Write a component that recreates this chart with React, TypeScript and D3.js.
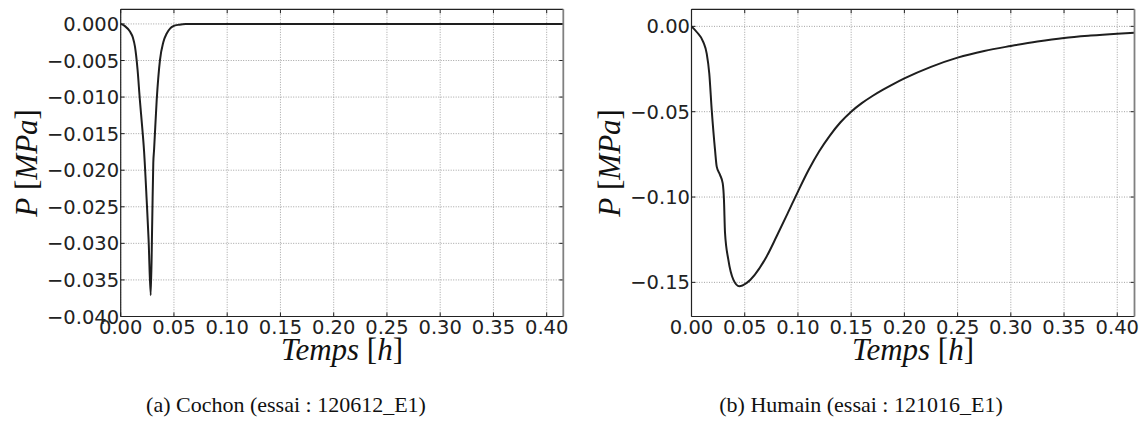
import React from "react";
import * as d3 from "d3";

// ---- Data ----
const cochonT = [0, 0.004, 0.0087, 0.0115, 0.0134, 0.0158, 0.018, 0.02, 0.0219, 0.0244, 0.0262, 0.0282, 0.0296, 0.0306, 0.0313, 0.0338, 0.0369, 0.04, 0.0432, 0.0465, 0.0494, 0.055, 0.061, 0.08, 0.2, 0.4156];
const cochonP = [0, -0.0003, -0.00105, -0.0019, -0.0031, -0.0062, -0.0104, -0.0138, -0.0173, -0.0241, -0.0295, -0.0371, -0.027, -0.019, -0.0173, -0.0104, -0.0049, -0.0025, -0.0013, -0.0006, -0.0003, -0.0001, 0, 0, 0, 0];

const humainT = [0, 0.0049, 0.0111, 0.0143, 0.0167, 0.019, 0.0221, 0.0237, 0.0268, 0.0293, 0.0305, 0.0315, 0.0346, 0.0393, 0.0449, 0.0519, 0.0706, 0.08, 0.09, 0.1, 0.11, 0.12, 0.13, 0.14, 0.15, 0.16, 0.17, 0.18, 0.19, 0.2, 0.225, 0.25, 0.275, 0.3, 0.325, 0.35, 0.375, 0.4, 0.4162];
const humainP = [0, -0.0033, -0.0092, -0.016, -0.0276, -0.049, -0.0724, -0.0822, -0.087, -0.0919, -0.1016, -0.1211, -0.1367, -0.1484, -0.1523, -0.1503, -0.1348, -0.123, -0.11, -0.0968, -0.0842, -0.0732, -0.064, -0.0562, -0.05, -0.045, -0.0408, -0.0371, -0.0337, -0.0305, -0.0237, -0.0183, -0.0144, -0.0115, -0.0089, -0.0068, -0.0054, -0.0043, -0.0037];

const xTicks = [0, 0.05, 0.1, 0.15, 0.2, 0.25, 0.3, 0.35, 0.4];
const xTickLabels = ["0.00", "0.05", "0.10", "0.15", "0.20", "0.25", "0.30", "0.35", "0.40"];
const yTicksA = [0, -0.005, -0.01, -0.015, -0.02, -0.025, -0.03, -0.035, -0.04];
const yTickLabelsA = ["0.000", "\u22120.005", "\u22120.010", "\u22120.015", "\u22120.020", "\u22120.025", "\u22120.030", "\u22120.035", "\u22120.040"];
const yTicksB = [0, -0.05, -0.1, -0.15];
const yTickLabelsB = ["0.00", "\u22120.05", "\u22120.10", "\u22120.15"];

const captionA = "(a) Cochon (essai : 120612_E1)";
const captionB = "(b) Humain (essai : 121016_E1)";

const TICK_FONT = "'DejaVu Sans', sans-serif";
const SERIF = "'Liberation Serif', 'DejaVu Serif', serif";

type PanelProps = {
  t: number[];
  p: number[];
  xDomain: [number, number];
  yDomain: [number, number];
  xRange: [number, number];
  yRange: [number, number];
  yTicks: number[];
  yTickLabels: string[];
  yLabelX: number;
  caption: string;
  captionX: number;
};

function Panel(props: PanelProps) {
  const { t, p, xDomain, yDomain, xRange, yRange, yTicks, yTickLabels, yLabelX, caption, captionX } = props;
  const x = d3.scaleLinear().domain(xDomain).range(xRange);
  const y = d3.scaleLinear().domain(yDomain).range(yRange);
  const [x0, x1] = xRange;
  const [yb, yt] = yRange;
  const line = d3
    .line<number>()
    .x((_, i) => x(t[i]))
    .y((v) => y(v))
    .curve(d3.curveMonotoneX);
  const cx = (x0 + x1) / 2;
  const cy = (yb + yt) / 2;
  const tl = 4;
  return (
    <g>
      {/* grid */}
      {xTicks.map((v, i) => (
        <line key={"gx" + i} x1={x(v)} x2={x(v)} y1={yt} y2={yb} stroke="#999" strokeWidth={0.9} strokeDasharray="1,1.5" />
      ))}
      {yTicks.map((v, i) => (
        <line key={"gy" + i} x1={x0} x2={x1} y1={y(v)} y2={y(v)} stroke="#999" strokeWidth={0.9} strokeDasharray="1,1.5" />
      ))}
      {/* inward ticks */}
      {xTicks.map((v, i) => (
        <g key={"tx" + i}>
          <line x1={x(v)} x2={x(v)} y1={yb} y2={yb - tl} stroke="#222" strokeWidth={1} />
          <line x1={x(v)} x2={x(v)} y1={yt} y2={yt + tl} stroke="#222" strokeWidth={1} />
        </g>
      ))}
      {yTicks.map((v, i) => (
        <g key={"ty" + i}>
          <line x1={x0} x2={x0 + tl} y1={y(v)} y2={y(v)} stroke="#222" strokeWidth={1} />
          <line x1={x1} x2={x1 - tl} y1={y(v)} y2={y(v)} stroke="#222" strokeWidth={1} />
        </g>
      ))}
      {/* curve */}
      <path d={line(p) || ""} fill="none" stroke="#1e1e1e" strokeWidth={2} strokeLinejoin="round" />
      {/* spines */}
      <line x1={x0} x2={x1} y1={yt} y2={yt} stroke="#222" strokeWidth={1.2} />
      <line x1={x0} x2={x1} y1={yb} y2={yb} stroke="#222" strokeWidth={1.2} />
      <line x1={x0} x2={x0} y1={yt} y2={yb} stroke="#222" strokeWidth={1.2} />
      <line x1={x1} x2={x1} y1={yt} y2={yb} stroke="#808080" strokeWidth={1.8} />
      {/* tick labels */}
      {xTicks.map((v, i) => (
        <text key={"lx" + i} x={x(v)} y={yb + 17} textAnchor="middle" fontFamily={TICK_FONT} fontSize={19.5} fill="#222">
          {xTickLabels[i]}
        </text>
      ))}
      {yTicks.map((v, i) => (
        <text key={"ly" + i} x={x0 - 1.5} y={y(v)} dy="0.36em" textAnchor="end" fontFamily={TICK_FONT} fontSize={19.5} fill="#222">
          {yTickLabels[i]}
        </text>
      ))}
      {/* axis labels */}
      <text x={cx} y={360} textAnchor="middle" fontFamily={SERIF} fontSize={31} fill="#111">
        <tspan fontStyle="italic">Temps</tspan>
        <tspan> [</tspan>
        <tspan fontStyle="italic">h</tspan>
        <tspan>]</tspan>
      </text>
      <text transform={`translate(${yLabelX},${cy}) rotate(-90)`} textAnchor="middle" fontFamily={SERIF} fontSize={31} fill="#111">
        <tspan fontStyle="italic">P</tspan>
        <tspan> [</tspan>
        <tspan fontStyle="italic">MPa</tspan>
        <tspan>]</tspan>
      </text>
      {/* caption */}
      <text x={captionX} y={411.5} textAnchor="middle" fontFamily={SERIF} fontSize={22} fill="#111">
        {caption}
      </text>
    </g>
  );
}

export default function App() {
  return (
    <svg width={1146} height={423} style={{ position: "absolute", left: 0, top: 0, background: "#fff" }}>
      <rect width={1146} height={423} fill="#fff" />
      <Panel
        t={cochonT}
        p={cochonP}
        xDomain={[0, 0.4156]}
        yDomain={[-0.04, 0.002]}
        xRange={[120.7, 563.3]}
        yRange={[316.5, 9.3]}
        yTicks={yTicksA}
        yTickLabels={yTickLabelsA}
        yLabelX={37}
        caption={captionA}
        captionX={286}
      />
      <Panel
        t={humainT}
        p={humainP}
        xDomain={[0, 0.4162]}
        yDomain={[-0.17, 0.01]}
        xRange={[691.5, 1134.5]}
        yRange={[316.5, 9.3]}
        yTicks={yTicksB}
        yTickLabels={yTickLabelsB}
        yLabelX={620}
        caption={captionB}
        captionX={861}
      />
    </svg>
  );
}
